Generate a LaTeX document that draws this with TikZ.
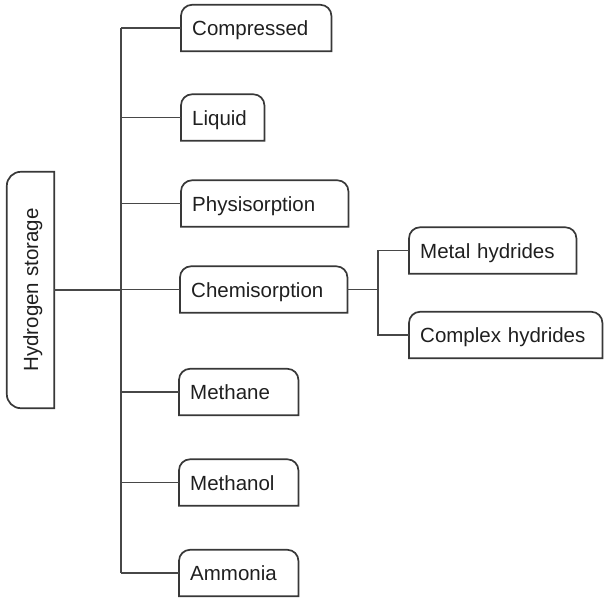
\documentclass[tikz,border=0pt]{standalone}
\usepackage{fontspec}
\setmainfont{Liberation Sans}
\begin{document}
\begin{tikzpicture}[x=1pt,y=-1pt,
  every node/.style={font=\fontsize{20.5}{24}\selectfont, text=black!88},
  box/.style={minimum height=46pt, text width=#1, inner xsep=11pt, inner ysep=0pt,
    text height=15pt, text depth=0pt, align=left, anchor=west},
  outline/.style={draw=black!78, line width=1.7pt},
  link/.style={draw=black!72, line width=1.5pt}]
\useasboundingbox (0,0) rectangle (604,597);

% main box, set on its side
\node[minimum width=236pt, minimum height=47pt, rotate=90, inner sep=0pt,
  text height=15pt, text depth=0pt]
  (hs) at (30.5,290) {Hydrogen storage};

% first level
\node[box=128pt] (comp) at (181,28)    {Compressed};
\node[box=61pt]  (liq)  at (181,117.5) {Liquid};
\node[box=145pt] (phys) at (181,203.5) {Physisorption};
\node[box=145pt] (chem) at (180,289.5) {Chemisorption};
\node[box=97pt]  (mth)  at (179,392)   {Methane};
\node[box=97pt]  (mol)  at (179,482.5) {Methanol};
\node[box=97pt]  (amm)  at (179,573)   {Ammonia};

% second level
\node[box=145pt] (metal)   at (409,250.5) {Metal hydrides};
\node[box=171pt] (complex) at (409,335)   {Complex hydrides};

% outlines: rounded on the top side only
\foreach \n/\r in {hs/14pt,comp/11pt,liq/11pt,phys/11pt,chem/11pt,mth/11pt,mol/11pt,amm/11pt,metal/11pt,complex/11pt}
  \draw[outline] (\n.south west) [rounded corners=\r] -- (\n.north west)
    -- (\n.north east) [sharp corners] -- (\n.south east) -- cycle;

% trunks
\coordinate (tr) at (121,0);
\coordinate (st) at (378,0);

\draw[link] (comp.west -| tr) -- (amm.west -| tr);
\draw[link] (hs.south) -- (hs.south -| tr);
\foreach \n in {comp,liq,phys,chem,mth,mol,amm}
  \draw[link] (\n.west -| tr) -- (\n.west);

\draw[link] (chem.east) -- (chem.east -| st);
\draw[link] (metal.west) -- (metal.west -| st) -- (complex.west -| st) -- (complex.west);
\end{tikzpicture}
\end{document}
